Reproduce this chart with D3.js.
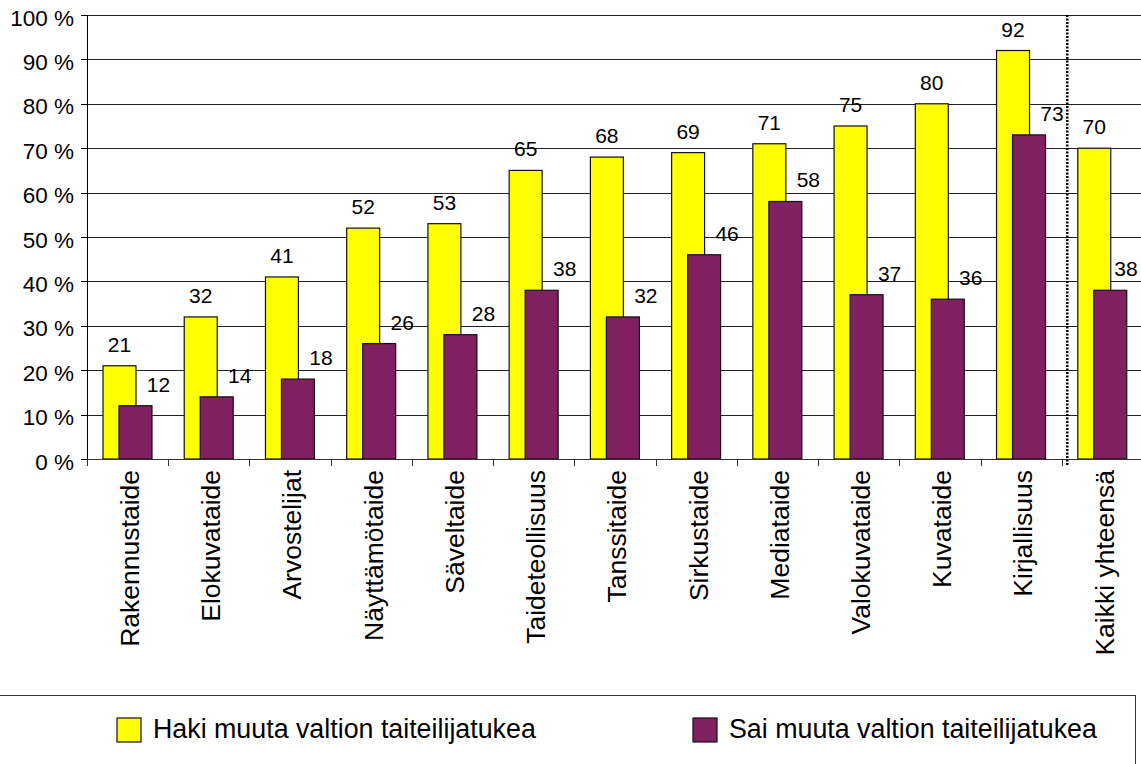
<!DOCTYPE html>
<html>
<head>
<meta charset="utf-8">
<script src="https://cdnjs.cloudflare.com/ajax/libs/d3/7.8.5/d3.min.js"></script>
<style>
  body { margin: 0; background: #fff; }
  text { font-family: "Liberation Sans", Arial, sans-serif; fill: #000; }
</style>
</head>
<body>
<script>
// data
let categories = ["Rakennustaide", "Elokuvataide", "Arvostelijat", "Näyttämötaide", "Säveltaide",
  "Taideteollisuus", "Tanssitaide", "Sirkustaide", "Mediataide", "Valokuvataide", "Kuvataide",
  "Kirjallisuus", "Kaikki yhteensä"];
let haki = [21, 32, 41, 52, 53, 65, 68, 69, 71, 75, 80, 92, 70];
let sai = [12, 14, 18, 26, 28, 38, 32, 46, 58, 37, 36, 73, 38];
let seriesNames = ["Haki muuta valtion taiteilijatukea", "Sai muuta valtion taiteilijatukea"];
let yTicks = [0, 10, 20, 30, 40, 50, 60, 70, 80, 90, 100];

let colors = ["#ffff00", "#802060"];

// page and plot area
let W = 1141, H = 764;
let margin = {top: 15, left: 87};
let plotW = 1056, plotH = 444;

let svg = d3.select("body").append("svg")
    .attr("width", W)
    .attr("height", H);

let g = svg.append("g")
    .attr("transform", "translate(" + margin.left + "," + margin.top + ")");

// scales
let xScale = d3.scaleBand().domain(categories).range([0, plotW]);
let yScale = d3.scaleLinear().domain([0, 100]).range([plotH, 0]);

let bw = xScale.bandwidth();
let barW = bw * 0.406;
let off = bw * 0.197;

// gridlines
g.selectAll(".grid")
    .data(yTicks.filter(d => d > 0))
  .enter().append("line")
    .attr("x1", 0).attr("x2", plotW + 2)
    .attr("y1", d => Math.round(yScale(d)) + 0.5)
    .attr("y2", d => Math.round(yScale(d)) + 0.5)
    .attr("stroke", "#222")
    .attr("stroke-width", 1);

// bars, yellow first then purple overlapping it
let rows = categories.map((c, i) => ({c: c, haki: haki[i], sai: sai[i]}));

g.selectAll(".haki")
    .data(rows)
  .enter().append("rect")
    .attr("x", d => xScale(d.c) + off)
    .attr("y", d => yScale(d.haki))
    .attr("width", barW)
    .attr("height", d => plotH - yScale(d.haki))
    .attr("fill", colors[0])
    .attr("stroke", "#111")
    .attr("stroke-width", 1.2);

g.selectAll(".sai")
    .data(rows)
  .enter().append("rect")
    .attr("x", d => xScale(d.c) + off * 2)
    .attr("y", d => yScale(d.sai))
    .attr("width", barW)
    .attr("height", d => plotH - yScale(d.sai))
    .attr("fill", colors[1])
    .attr("stroke", "#111")
    .attr("stroke-width", 1.2);

// value labels
g.selectAll(".lblH")
    .data(rows)
  .enter().append("text")
    .attr("x", d => xScale(d.c) + off + barW / 2)
    .attr("y", d => yScale(d.haki) - 14)
    .attr("text-anchor", "middle")
    .style("font-size", "21px")
    .text(d => d.haki);

// purple labels sit to the right of the bar, kept inside the page
let maxLblX = W - margin.left - 15;
g.selectAll(".lblS")
    .data(rows)
  .enter().append("text")
    .attr("x", d => Math.min(xScale(d.c) + off * 2 + barW / 2 + 23, maxLblX))
    .attr("y", d => yScale(d.sai) - 14)
    .attr("text-anchor", "middle")
    .style("font-size", "21px")
    .text(d => d.sai);

// x axis with ticks at band edges
let xAxis = g.append("g")
    .attr("transform", "translate(0," + plotH + ")");
xAxis.append("line")
    .attr("x1", 0).attr("x2", plotW + 2)
    .attr("y1", 0.5).attr("y2", 0.5)
    .attr("stroke", "#333");
xAxis.selectAll(".xt")
    .data(categories)
  .enter().append("line")
    .attr("x1", d => Math.round(xScale(d)) + 0.5)
    .attr("x2", d => Math.round(xScale(d)) + 0.5)
    .attr("y1", 0).attr("y2", 7)
    .attr("stroke", "#333");
xAxis.selectAll(".xl")
    .data(categories)
  .enter().append("text")
    .attr("transform", d => "translate(" + (xScale(d) + bw / 2 + 2) + ",11) rotate(-90)")
    .attr("text-anchor", "end")
    .attr("dy", "0.35em")
    .style("font-size", "26.5px")
    .text(d => d);

// y axis
let yAxis = g.append("g");
yAxis.append("line")
    .attr("x1", 0.5).attr("x2", 0.5)
    .attr("y1", 0).attr("y2", plotH)
    .attr("stroke", "#000");
yAxis.selectAll(".yt")
    .data(yTicks)
  .enter().append("line")
    .attr("x1", -6).attr("x2", 0)
    .attr("y1", d => Math.round(yScale(d)) + 0.5)
    .attr("y2", d => Math.round(yScale(d)) + 0.5)
    .attr("stroke", "#000");
yAxis.selectAll(".yl")
    .data(yTicks)
  .enter().append("text")
    .attr("x", -13)
    .attr("y", d => yScale(d))
    .attr("dy", "0.47em")
    .attr("text-anchor", "end")
    .style("font-size", "22.5px")
    .text(d => d + " %");

// dotted separator before the total
let sepX = xScale(categories[categories.length - 1]) + 5.5;
g.append("line")
    .attr("x1", sepX).attr("x2", sepX)
    .attr("y1", 0).attr("y2", plotH + 7)
    .attr("stroke", "#000")
    .attr("stroke-width", 2.5)
    .attr("stroke-dasharray", "2,1.5");

// legend box
svg.append("rect")
    .attr("x", -2).attr("y", 695.5)
    .attr("width", 1137.5).attr("height", 100)
    .attr("fill", "none")
    .attr("stroke", "#333");

let legendX = [117, 693];
let leg = svg.selectAll(".leg")
    .data(seriesNames)
  .enter().append("g")
    .attr("transform", (d, i) => "translate(" + legendX[i] + ",718)");
leg.append("rect")
    .attr("width", 24).attr("height", 24)
    .attr("fill", (d, i) => colors[i])
    .attr("stroke", "#111")
    .attr("stroke-width", 1.2);
leg.append("text")
    .attr("x", 36)
    .attr("y", 19.5)
    .style("font-size", "26.8px")
    .text(d => d);
</script>
</body>
</html>
